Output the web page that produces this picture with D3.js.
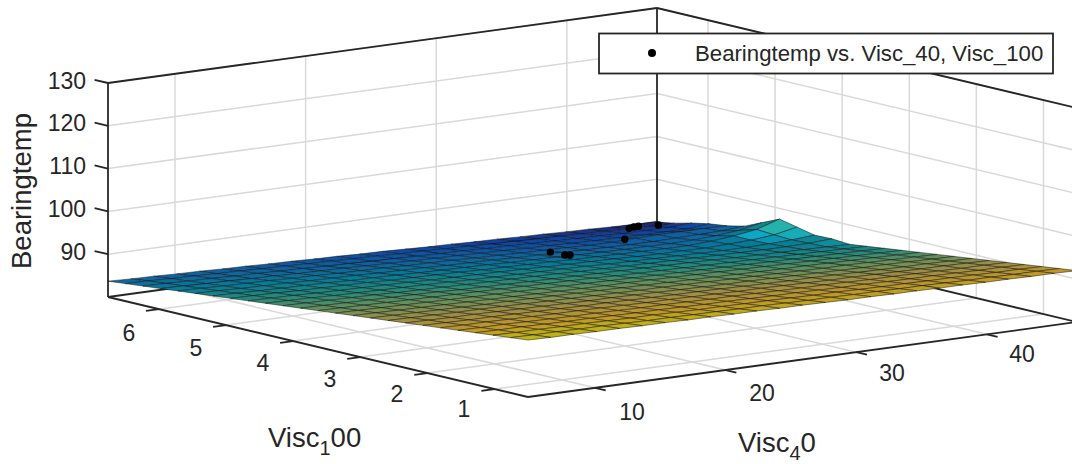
<!DOCTYPE html>
<html><head><meta charset="utf-8">
<script src="https://cdn.jsdelivr.net/npm/d3@7"></script>
<style>html,body{margin:0;padding:0;background:#fff}svg{display:block}text{font-family:"Liberation Sans",Arial,sans-serif;fill:#262626}</style>
</head><body><svg id="c" width="1072" height="464"></svg>
<script>
const xTicks=[10,20,30,40], yTicks=[1,2,3,4,5,6], zTicks=[90,100,110,120,130];
const xLim=[4.87,46.9], yLim=[0.5,6.76], zLim=[80,130];
const legendLabel="Bearingtemp vs. Visc_40, Visc_100";
const ptX=[29.7,30.8,31.2,37.96,38.3,38.65,39.0,43.1];
const ptY=[5,5,5,5.5,5.5,5.5,5.5,6];
const ptZ=[86.7,85.6,85.4,84.4,86.8,87.0,87.0,83.7];
// fitted surface heights: rows run from low to high Visc_100, columns from low to high Visc_40
const surfaceZ=[
[93.3,93.2,93.2,93.1,93.1,93.0,93.0,92.9,92.9,92.8,92.8,92.7,92.7,92.6,92.5,92.5,92.4,92.4,92.3,92.3,92.2,92.2,92.1,92.1,92.0],
[92.9,92.8,92.8,92.7,92.7,92.6,92.5,92.5,92.4,92.4,92.3,92.3,92.2,92.1,92.1,92.0,92.0,91.9,91.9,91.8,91.7,91.7,91.6,91.6,91.5],
[92.5,92.4,92.4,92.3,92.3,92.2,92.1,92.1,92.0,91.9,91.9,91.8,91.8,91.7,91.6,91.6,91.5,91.4,91.4,91.3,91.3,91.2,91.1,91.1,91.0],
[92.1,92.0,92.0,91.9,91.8,91.8,91.7,91.6,91.6,91.5,91.4,91.4,91.3,91.2,91.2,91.1,91.0,91.0,90.9,90.8,90.8,90.7,90.6,90.6,90.5],
[91.7,91.6,91.6,91.5,91.4,91.3,91.3,91.2,91.1,91.1,91.0,90.9,90.9,90.8,90.7,90.6,90.6,90.5,90.4,90.4,90.3,90.2,90.1,90.1,90.0],
[91.3,91.2,91.2,91.1,91.0,90.9,90.9,90.8,90.7,90.6,90.6,90.5,90.4,90.3,90.3,90.2,90.1,90.0,90.0,89.9,89.8,89.7,89.7,89.6,89.5],
[90.9,90.8,90.7,90.7,90.6,90.5,90.4,90.3,90.3,90.2,90.1,90.0,90.0,89.9,89.8,89.7,89.6,89.6,89.5,89.4,89.3,89.2,89.2,89.1,89.0],
[90.5,90.4,90.3,90.3,90.2,90.1,90.0,89.9,89.8,89.8,89.7,89.6,89.5,89.4,89.3,89.3,89.2,89.1,89.0,88.9,88.8,88.8,88.7,88.6,88.5],
[90.1,90.0,89.9,89.8,89.8,89.7,89.6,89.5,89.4,89.3,89.2,89.1,89.1,89.0,88.9,88.8,88.7,88.6,88.5,88.4,88.4,88.3,88.2,88.1,88.0],
[89.7,89.6,89.5,89.4,89.3,89.2,89.2,89.1,89.0,88.9,88.8,88.7,88.6,88.5,88.4,88.3,88.2,88.1,88.0,88.0,87.9,87.8,87.7,87.6,87.5],
[89.3,89.2,89.1,89.0,88.9,88.8,88.7,88.6,88.5,88.4,88.3,88.2,88.2,88.1,88.0,87.9,87.8,87.7,87.6,87.5,87.4,87.3,87.2,87.1,87.0],
[88.9,88.8,88.7,88.6,88.5,88.4,88.3,88.2,88.1,88.0,87.9,87.8,87.7,87.6,87.5,87.4,87.3,87.2,87.1,87.0,86.9,86.8,86.7,86.6,86.5],
[88.5,88.4,88.3,88.2,88.1,88.0,87.9,87.8,87.7,87.6,87.5,87.4,87.3,87.1,87.0,86.9,86.8,86.7,86.6,86.5,86.4,86.3,86.2,86.1,86.0],
[88.1,88.0,87.9,87.8,87.7,87.6,87.5,87.3,87.2,87.1,87.0,86.9,86.8,86.7,86.6,86.5,86.4,86.3,86.2,86.0,85.9,85.8,85.7,85.6,85.5],
[87.7,87.6,87.5,87.4,87.3,87.1,87.0,86.9,86.8,86.7,86.6,86.5,86.4,86.2,86.1,86.0,85.9,85.8,85.7,85.6,85.5,85.4,85.4,85.5,85.8],
[87.3,87.2,87.1,86.9,86.8,86.7,86.6,86.5,86.4,86.2,86.1,86.0,85.9,85.8,85.7,85.5,85.4,85.3,85.2,85.1,85.0,85.0,85.1,85.3,85.7],
[86.9,86.8,86.7,86.5,86.4,86.3,86.2,86.1,85.9,85.8,85.7,85.6,85.5,85.3,85.2,85.1,85.0,84.8,84.7,84.7,84.6,84.8,85.0,85.5,86.6],
[86.5,86.4,86.3,86.1,86.0,85.9,85.8,85.6,85.5,85.4,85.3,85.1,85.0,84.9,84.8,84.6,84.5,84.4,84.3,84.2,84.2,84.5,85.0,85.8,87.5],
[86.1,86.0,85.8,85.7,85.6,85.5,85.3,85.2,85.1,84.9,84.8,84.7,84.6,84.4,84.3,84.2,84.0,83.9,83.8,83.8,83.7,83.8,84.1,84.6,85.7],
[85.7,85.6,85.4,85.3,85.2,85.0,84.9,84.8,84.6,84.5,84.4,84.2,84.1,84.0,83.8,83.7,83.6,83.4,83.3,83.2,83.2,83.3,83.4,83.5,83.9],
[85.3,85.2,85.0,84.9,84.8,84.6,84.5,84.3,84.2,84.1,83.9,83.8,83.7,83.5,83.4,83.2,83.1,83.0,82.8,82.8,83.0,83.1,83.1,83.1,83.0],
[84.9,84.8,84.6,84.5,84.3,84.2,84.0,83.9,83.8,83.6,83.5,83.3,83.2,83.1,82.9,82.8,82.6,82.5,82.3,82.2,82.1,82.0,82.0,82.0,82.5],
[84.5,84.4,84.2,84.1,83.9,83.8,83.6,83.5,83.3,83.2,83.0,82.9,82.7,82.6,82.5,82.3,82.2,82.0,81.9,81.7,81.6,81.4,81.4,81.4,81.7],
[84.1,84.0,83.8,83.7,83.5,83.4,83.2,83.1,82.9,82.8,82.6,82.5,82.3,82.2,82.0,81.9,81.7,81.6,81.4,81.3,81.1,81.0,80.8,80.7,80.7],
[83.7,83.5,83.4,83.2,83.1,82.9,82.8,82.6,82.5,82.3,82.2,82.0,81.9,81.7,81.5,81.4,81.2,81.1,80.9,80.8,80.6,80.5,80.3,80.2,80.0]
];

const ox=528, oy=397;
const xSx=d3.scaleLinear().domain(xLim).range([0,549]), xSy=d3.scaleLinear().domain(xLim).range([0,-75]);
const ySx=d3.scaleLinear().domain(yLim).range([0,-420]), ySy=d3.scaleLinear().domain(yLim).range([0,-100]);
const zSy=d3.scaleLinear().domain(zLim).range([0,-214]);
const P=(x,y,z)=>[ox+xSx(x)+ySx(y), oy+xSy(x)+ySy(y)+zSy(z)];
const svg=d3.select("#c");
const line=d3.line();
const seg=(g,a,b,col,w)=>g.append("path").attr("d",line([P(...a),P(...b)])).attr("fill","none").attr("stroke",col).attr("stroke-width",w);
const [x0,x1]=xLim,[y0,y1]=yLim,[z0,z1]=zLim;

// grid
const grid=svg.append("g");const gc="#d9d9d9",gw=1.5;
xTicks.forEach(t=>{seg(grid,[t,y1,z0],[t,y1,z1],gc,gw);seg(grid,[t,y0,z0],[t,y1,z0],gc,gw);});
yTicks.forEach(t=>{seg(grid,[x1,t,z0],[x1,t,z1],gc,gw);seg(grid,[x0,t,z0],[x1,t,z0],gc,gw);});
zTicks.forEach(t=>{seg(grid,[x0,y1,t],[x1,y1,t],gc,gw);seg(grid,[x1,y0,t],[x1,y1,t],gc,gw);});

// box behind the surface
const ax=svg.append("g");const ac="#262626",aw=1.8;
[[[x0,y1,z0],[x0,y1,z1]],[[x1,y1,z0],[x1,y1,z1]],[[x0,y1,z1],[x1,y1,z1]],[[x1,y1,z1],[x1,y0,z1]],
 [[x0,y1,z0],[x1,y1,z0]],[[x1,y1,z0],[x1,y0,z0]],[[x0,y1,z0],[x0,y0,z0]],[[x0,y0,z0],[x1,y0,z0]]].forEach(s=>seg(ax,s[0],s[1],ac,aw));
xTicks.forEach(t=>seg(ax,[t,y0,z0],[t,y0-0.16,z0],ac,aw));
yTicks.forEach(t=>seg(ax,[x0,t,z0],[x0-1,t,z0],ac,aw));
zTicks.forEach(t=>seg(ax,[x0,y1,t],[x0,y1+0.2,t],ac,aw));

// surface
const parula=d3.scaleLinear()
 .domain([0,.125,.25,.375,.5,.625,.75,.875,1])
 .range(["#352a87","#0f5cdd","#1481d6","#06a4ca","#2eb7a4","#87bf77","#d1bb59","#fec832","#f9fb0e"]);
const zColor=d3.scaleLinear().domain([80,93.5]).range([0,1]);
const nJ=surfaceZ.length,nI=surfaceZ[0].length;
const xG=d3.scaleLinear().domain([0,nI-1]).range(xLim), yG=d3.scaleLinear().domain([0,nJ-1]).range(yLim);
const cells=[];
const flatArea=Math.abs(d3.polygonArea([P(xG(0),yG(0),z0),P(xG(1),yG(0),z0),P(xG(1),yG(1),z0),P(xG(0),yG(1),z0)]));
for(let j=nJ-2;j>=0;j--)for(let i=nI-2;i>=0;i--){
 const pts=[[i,j],[i+1,j],[i+1,j+1],[i,j+1]].map(([a,b])=>P(xG(a),yG(b),surfaceZ[b][a]));
 const zm=d3.mean([surfaceZ[j][i],surfaceZ[j][i+1],surfaceZ[j+1][i],surfaceZ[j+1][i+1]]);
 cells.push({pts,zm,ratio:Math.abs(d3.polygonArea(pts))/flatArea});
}
const dark=r=>Math.max(0,Math.min(.24,.24*(1-(r-1.05)*4)));
svg.append("g").selectAll("path").data(cells).join("path")
 .attr("d",d=>line(d.pts)+"Z")
 .attr("fill",d=>d3.interpolateRgb(parula(zColor(d.zm)),"#000")(dark(d.ratio)))
 .attr("stroke","rgba(20,20,20,.5)").attr("stroke-width",1);

// points
svg.append("g").selectAll("circle").data(ptX.map((x,i)=>P(x,ptY[i],ptZ[i]))).join("circle")
 .attr("cx",d=>d[0]).attr("cy",d=>d[1]).attr("r",3.7).attr("fill","#000");

// labels
const fs=23;
const xlx=d3.scaleLinear().domain([10,40]).range([632,1022]),xly=d3.scaleLinear().domain([10,40]).range([412,354]);
const ylx=d3.scaleLinear().domain([1,6]).range([464,129]),yly=d3.scaleLinear().domain([1,6]).range([409,333]);
const tg=svg.append("g").attr("font-size",fs);
xTicks.forEach(t=>tg.append("text").attr("x",xlx(t)).attr("y",xly(t)).attr("dy",".35em").attr("text-anchor","middle").text(t));
yTicks.forEach(t=>tg.append("text").attr("x",ylx(t)).attr("y",yly(t)).attr("dy",".35em").attr("text-anchor","middle").text(t));
zTicks.forEach(t=>tg.append("text").attr("x",86).attr("y",P(x0,y1,t)[1]-2.5).attr("dy",".35em").attr("text-anchor","end").text(t));
svg.append("text").attr("transform","translate(31,191) rotate(-90)").attr("text-anchor","middle").attr("font-size",27.5).text("Bearingtemp");
const sub=(x,y,a,b,c)=>{const t=svg.append("text").attr("x",x).attr("y",y).attr("font-size",27.5);
 t.append("tspan").text(a);t.append("tspan").attr("font-size",20).attr("dy",8).text(b);t.append("tspan").attr("dy",-8).text(c);};
sub(268,447,"Visc","1","00");
sub(738,452,"Visc","4","0");

// legend
const lg=svg.append("g");
lg.append("rect").attr("x",599).attr("y",33.5).attr("width",454).attr("height",40).attr("fill","#fff").attr("stroke",ac).attr("stroke-width",1.8);
lg.append("circle").attr("cx",652).attr("cy",53).attr("r",4).attr("fill","#000");
lg.append("text").attr("x",695).attr("y",53).attr("dy",".36em").attr("font-size",22.2).text(legendLabel);
</script></body></html>
